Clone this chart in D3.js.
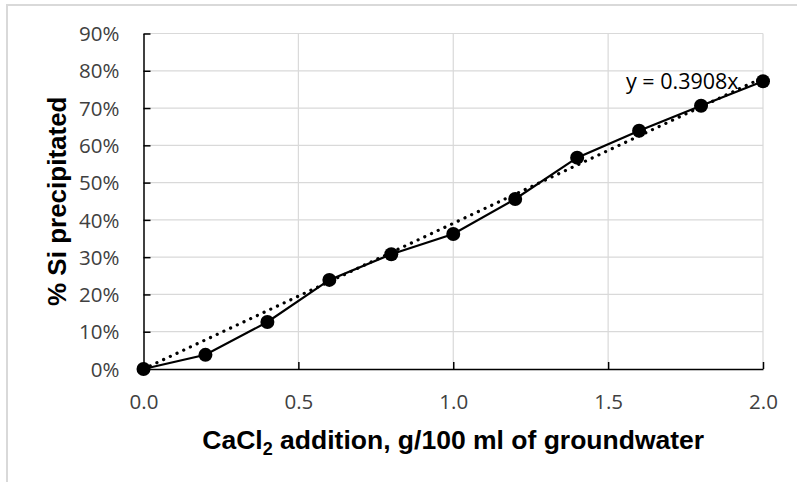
<!DOCTYPE html>
<html>
<head>
<meta charset="utf-8">
<script src="https://cdn.jsdelivr.net/npm/d3@7"></script>
<style>
html,body{margin:0;padding:0;background:#fff;}
svg{display:block;}
</style>
</head>
<body>
<svg id="chart" width="798" height="482"></svg>
<script>
const xValues = [0.0, 0.2, 0.4, 0.6, 0.8, 1.0, 1.2, 1.4, 1.6, 1.8, 2.0];
const yValues = [0.0, 0.038, 0.126, 0.239, 0.308, 0.362, 0.456, 0.567, 0.639, 0.706, 0.772];
const trendSlope = 0.3908;
const trendLabel = "y = 0.3908x";
const xTicks = [0.0, 0.5, 1.0, 1.5, 2.0];
const yTicks = [0, 0.1, 0.2, 0.3, 0.4, 0.5, 0.6, 0.7, 0.8, 0.9];

const svg = d3.select("#chart");
const W = 798, H = 482;
const m = {left: 143.5, right: 763, top: 33.5, bottom: 369};

// outer frame
svg.append("path")
  .attr("d", `M7,${H+2} L7,5 L${W-1},5`)
  .attr("fill", "none").attr("stroke", "#d9d9d9").attr("stroke-width", 2);

const x = d3.scaleLinear().domain([0, 2]).range([m.left, m.right]);
const y = d3.scaleLinear().domain([0, 0.9]).range([m.bottom, m.top]);

// gridlines
const grid = svg.append("g");
grid.selectAll("line.h").data(yTicks.filter(d => d > 0)).join("line")
  .attr("x1", m.left).attr("x2", m.right)
  .attr("y1", d => y(d)).attr("y2", d => y(d))
  .attr("stroke", "#d9d9d9").attr("stroke-width", 1.2);
grid.selectAll("line.v").data(xTicks.filter(d => d > 0)).join("line")
  .attr("y1", m.top).attr("y2", m.bottom)
  .attr("x1", d => x(d)).attr("x2", d => x(d))
  .attr("stroke", "#d9d9d9").attr("stroke-width", 1.2);

// axes
const fontTick = "'Open Sans', sans-serif";
const yAxis = d3.axisLeft(y).tickValues(yTicks).tickFormat(d3.format(".0%"))
  .tickSizeInner(-7).tickSizeOuter(0).tickPadding(24);
const gy = svg.append("g").attr("transform", `translate(${m.left},0)`).call(yAxis);
const xAxis = d3.axisBottom(x).tickValues(xTicks).tickFormat(d3.format(".1f"))
  .tickSizeInner(-7).tickSizeOuter(0).tickPadding(24);
const gx = svg.append("g").attr("transform", `translate(0,${m.bottom})`).call(xAxis);
[gx, gy].forEach(g => {
  g.select(".domain").attr("stroke", "#000").attr("stroke-width", 1.5);
  g.selectAll(".tick line").attr("stroke", "#000").attr("stroke-width", 1.5);
  g.selectAll(".tick text").attr("font-family", fontTick).attr("font-size", 20.5).attr("fill", "#404040");
});
gy.selectAll(".tick text").attr("dy", "0.35em");
gx.selectAll(".tick text").attr("dy", "0.78em");

// axis titles
const xt = svg.append("text")
  .attr("x", (m.left + m.right) / 2).attr("y", 448.5)
  .attr("text-anchor", "middle")
  .attr("font-family", "'Liberation Sans', Arial, sans-serif")
  .attr("font-weight", "bold").attr("font-size", 26.5).attr("fill", "#000");
xt.append("tspan").text("CaCl");
xt.append("tspan").attr("font-size", 18).attr("dy", 6).text("2");
xt.append("tspan").attr("dy", -6).text(" addition, g/100 ml of groundwater");

svg.append("text")
  .attr("transform", `translate(66,${(m.top + m.bottom) / 2}) rotate(-90)`)
  .attr("text-anchor", "middle")
  .attr("font-family", "'Liberation Sans', Arial, sans-serif")
  .attr("font-weight", "bold").attr("font-size", 26).attr("fill", "#000")
  .text("% Si precipitated");

// data line
const pts = xValues.map((v, i) => [v, yValues[i]]);
svg.append("path").datum(pts)
  .attr("d", d3.line().x(d => x(d[0])).y(d => y(d[1])))
  .attr("fill", "none").attr("stroke", "#000").attr("stroke-width", 2.2);

// trendline
const tr = [[0, 0], [2, 2 * trendSlope]];
svg.append("path").datum(tr)
  .attr("d", d3.line().x(d => x(d[0])).y(d => y(d[1])))
  .attr("fill", "none").attr("stroke", "#000").attr("stroke-width", 3.2)
  .attr("stroke-linecap", "round").attr("stroke-dasharray", "0.1 7.3");

// markers
svg.selectAll("circle.pt").data(pts).join("circle")
  .attr("cx", d => x(d[0])).attr("cy", d => y(d[1])).attr("r", 7)
  .attr("fill", "#000");

// equation label
svg.append("text")
  .attr("x", 626).attr("y", 81).attr("dy", "0.35em")
  .attr("font-family", fontTick).attr("font-size", 21.5).attr("fill", "#000")
  .text(trendLabel);
</script>
</body>
</html>
